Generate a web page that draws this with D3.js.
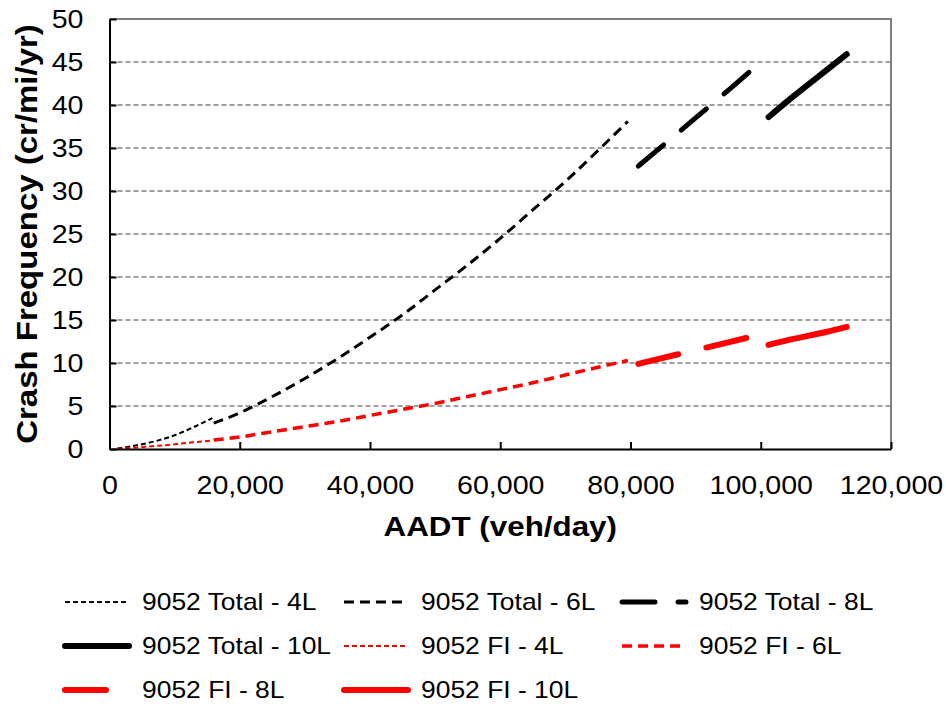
<!DOCTYPE html>
<html>
<head>
<meta charset="utf-8">
<script src="https://cdn.jsdelivr.net/npm/d3@7"></script>
<style>
  body { margin: 0; background: #fff; }
  text { font-family: "Liberation Sans", Arial, sans-serif; fill: #000; }
</style>
</head>
<body>
<div id="chart"></div>
<script>
// axis ticks
var xTicks = [0, 20000, 40000, 60000, 80000, 100000, 120000];
var yTicks = [0, 5, 10, 15, 20, 25, 30, 35, 40, 45, 50];

// AADT (veh/day) and crash frequency (cr/mi/yr)
var aadt4L = [1200, 2500, 5000, 7500, 10000, 12500, 15800];
var total4L = [0.05, 0.2, 0.55, 1.0, 1.6, 2.4, 3.6];
var fi4L = [0.02, 0.08, 0.22, 0.38, 0.55, 0.75, 1.0];

var aadt6L = [16000, 20000, 25000, 30000, 35000, 40000, 45000, 50000, 55000, 60000, 65000, 70000, 75000, 79600];
var total6L = [3.0, 4.2, 6.1, 8.2, 10.5, 13.0, 15.6, 18.5, 21.4, 24.5, 27.8, 31.1, 34.7, 38.1];
var fi6L = [1.05, 1.4, 2.0, 2.6, 3.2, 3.9, 4.6, 5.3, 6.1, 6.9, 7.7, 8.6, 9.5, 10.3];

var aadt8L = [81200, 85000, 90000, 95000, 98800];
var total8L = [32.9, 35.3, 38.5, 41.7, 44.2];
var fi8L = [9.9, 10.6, 11.5, 12.4, 13.1];

var aadt10L = [101200, 105000, 110000, 113200];
var total10L = [38.6, 41.0, 44.0, 45.9];
var fi10L = [12.1, 12.8, 13.6, 14.2];

var seriesNames = ["9052 Total - 4L", "9052 Total - 6L", "9052 Total - 8L", "9052 Total - 10L",
                   "9052 FI - 4L", "9052 FI - 6L", "9052 FI - 8L", "9052 FI - 10L"];

(function () {
    var W = 946, H = 707;
    var x0 = 109.5, x1 = 891, y0 = 449, y1 = 19;

    var svg = d3.select("#chart").append("svg")
        .attr("width", W)
        .attr("height", H);

    var x = d3.scaleLinear().domain([0, 120000]).range([x0, x1]);
    var y = d3.scaleLinear().domain([0, 50]).range([y0, y1]);

    // line looks, same order as seriesNames
    var looks = [
        { color: "#000", width: 2,   dash: "5,3",   cap: "butt" },
        { color: "#000", width: 3,   dash: "10,6",  cap: "butt" },
        { color: "#000", width: 5,   dash: "33,23", cap: "round" },
        { color: "#000", width: 6,   dash: null,    cap: "round" },
        { color: "#ff0000", width: 2,   dash: "5,3",   cap: "butt" },
        { color: "#ff0000", width: 3.5, dash: "10,6",  cap: "butt" },
        { color: "#ff0000", width: 6,   dash: "41,29", cap: "round" },
        { color: "#ff0000", width: 6,   dash: null,    cap: "round" }
    ];

    function pairs(xs, ys) { return xs.map(function (d, i) { return [d, ys[i]]; }); }
    var series = [
        pairs(aadt4L, total4L), pairs(aadt6L, total6L), pairs(aadt8L, total8L), pairs(aadt10L, total10L),
        pairs(aadt4L, fi4L), pairs(aadt6L, fi6L), pairs(aadt8L, fi8L), pairs(aadt10L, fi10L)
    ];

    // gridlines
    svg.append("g")
        .selectAll("line")
        .data(yTicks.filter(function (d) { return d > 0 && d < 50; }))
        .enter().append("line")
        .attr("x1", x0).attr("x2", x1)
        .attr("y1", function (d) { return y(d); })
        .attr("y2", function (d) { return y(d); })
        .style("stroke", "#7f7f7f")
        .style("stroke-width", 1.5)
        .style("stroke-dasharray", "5,3");

    // plot frame top and right
    svg.append("path")
        .attr("d", "M" + x0 + "," + y1 + "H" + x1 + "V" + y0)
        .style("fill", "none")
        .style("stroke", "#7f7f7f")
        .style("stroke-width", 2);

    var line = d3.line()
        .x(function (d) { return x(d[0]); })
        .y(function (d) { return y(d[1]); })
        .curve(d3.curveMonotoneX);

    svg.append("g")
        .selectAll("path")
        .data(series)
        .enter().append("path")
        .attr("d", line)
        .style("fill", "none")
        .style("stroke", function (d, i) { return looks[i].color; })
        .style("stroke-width", function (d, i) { return looks[i].width; })
        .style("stroke-dasharray", function (d, i) { return looks[i].dash; })
        .style("stroke-linecap", function (d, i) { return looks[i].cap; });

    // axes
    var xAxis = svg.append("g")
        .attr("transform", "translate(0," + y0 + ")")
        .call(d3.axisBottom(x).tickValues(xTicks).tickFormat(d3.format(","))
            .tickSizeInner(-7).tickSizeOuter(0).tickPadding(27));

    var yAxis = svg.append("g")
        .attr("transform", "translate(" + x0 + ",0)")
        .call(d3.axisLeft(y).tickValues(yTicks).tickSizeInner(-7).tickSizeOuter(0).tickPadding(26));

    [xAxis, yAxis].forEach(function (a) {
        a.selectAll("path, line").style("stroke", "#000").style("stroke-width", 2);
        a.selectAll("text").style("font-size", "26px").style("font-family", null);
    });
    xAxis.selectAll("text").attr("transform", "scale(1.1,1)");
    yAxis.selectAll("text").attr("transform", "scale(1.1,1)").attr("x", -26 / 1.1);

    // axis titles
    svg.append("text")
        .attr("text-anchor", "middle")
        .attr("transform", "translate(" + ((x0 + x1) / 2) + ",536) scale(1.12,1)")
        .style("font-size", "28px")
        .style("font-weight", "bold")
        .text("AADT (veh/day)");

    svg.append("text")
        .attr("text-anchor", "middle")
        .attr("transform", "translate(37," + ((y0 + y1) / 2) + ") rotate(-90) scale(1.1,1)")
        .style("font-size", "30px")
        .style("font-weight", "bold")
        .text("Crash Frequency (cr/mi/yr)");

    // legend, 3 columns
    var colX = [63, 342, 620], rowY = [602, 646, 690];
    var legend = svg.append("g")
        .selectAll("g")
        .data(seriesNames)
        .enter().append("g")
        .attr("transform", function (d, i) {
            return "translate(" + colX[i % 3] + "," + rowY[Math.floor(i / 3)] + ")";
        });

    legend.append("path")
        .attr("d", "M2,0H66")
        .style("fill", "none")
        .style("stroke", function (d, i) { return looks[i].color; })
        .style("stroke-width", function (d, i) { return looks[i].width; })
        .style("stroke-dasharray", function (d, i) { return looks[i].dash; })
        .style("stroke-linecap", function (d, i) { return looks[i].cap; });

    legend.append("text")
        .attr("transform", "translate(79,0) scale(1.15,1)")
        .attr("dy", "0.35em")
        .style("font-size", "23px")
        .text(function (d) { return d; });
})();
</script>
</body>
</html>
